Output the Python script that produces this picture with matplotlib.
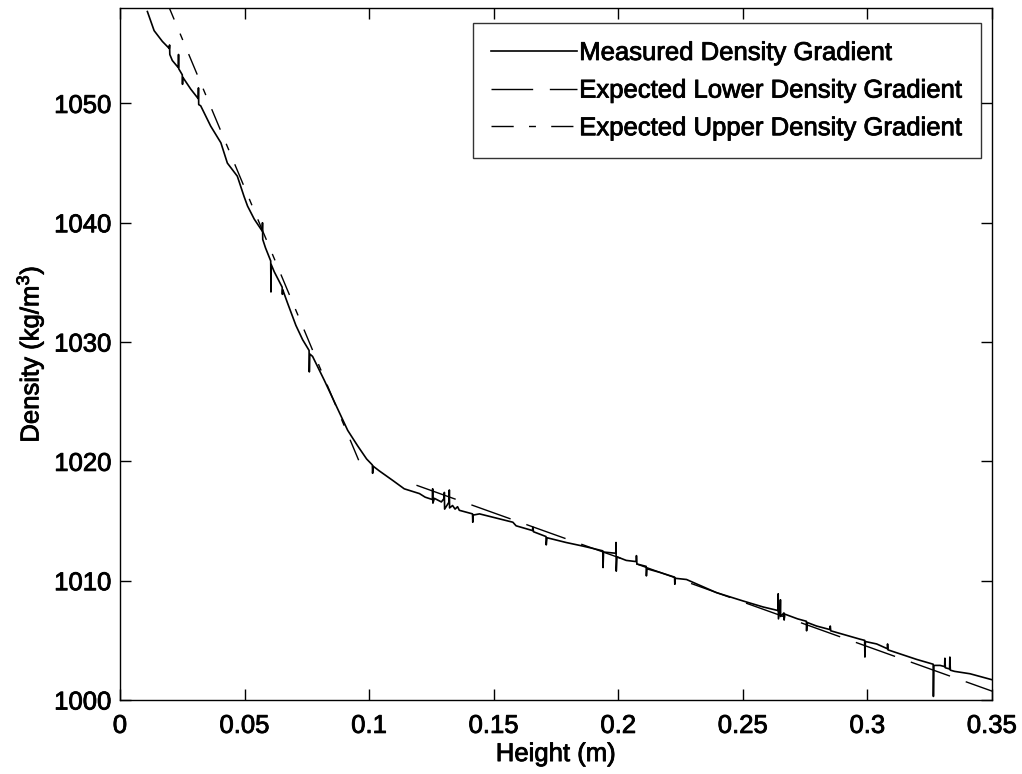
import numpy as np
import matplotlib
matplotlib.use('Agg')
import matplotlib.pyplot as plt
import matplotlib.patheffects as pe

plt.rcParams['font.family'] = ['Liberation Sans', 'DejaVu Sans']
plt.rcParams['mathtext.fontset'] = 'custom'
plt.rcParams['mathtext.rm'] = 'Liberation Sans'
plt.rcParams['mathtext.default'] = 'regular'

# measured profile (spikes included)
meas_x = [0.0110, 0.0137, 0.0170, 0.0198, 0.0199, 0.0200, 0.0210,
          0.0234, 0.0235, 0.0236, 0.0250, 0.0251, 0.0252, 0.0284,
          0.0314, 0.0315, 0.0316, 0.0324, 0.0364, 0.0405, 0.0431,
          0.0471, 0.0498, 0.0512, 0.0539, 0.0571, 0.0572, 0.0573,
          0.0584, 0.0605, 0.0606, 0.0607, 0.0619, 0.0651, 0.0652,
          0.0653, 0.0672, 0.0706, 0.0733, 0.0759, 0.0760, 0.0762,
          0.0773, 0.0820, 0.0867, 0.0914, 0.0954, 0.0990, 0.1013,
          0.1014, 0.1016, 0.1041, 0.1068, 0.1095, 0.1141, 0.1202,
          0.1225, 0.1254, 0.1255, 0.1256, 0.1262, 0.1290, 0.1301,
          0.1302, 0.1303, 0.1321, 0.1322, 0.1323, 0.1335, 0.1345,
          0.1355, 0.1362, 0.1415, 0.1416, 0.1418, 0.1443, 0.1500,
          0.1577, 0.1590, 0.1656, 0.1657, 0.1660, 0.1710, 0.1711,
          0.1714, 0.1791, 0.1858, 0.1899, 0.1938, 0.1939, 0.1941,
          0.1990, 0.1991, 0.1992, 0.1995, 0.2032, 0.2072, 0.2073,
          0.2075, 0.2112, 0.2113, 0.2115, 0.2166, 0.2226, 0.2227,
          0.2229, 0.2274, 0.2394, 0.2501, 0.2581, 0.2620, 0.2641,
          0.2642, 0.2643, 0.2650, 0.2651, 0.2652, 0.2665, 0.2666,
          0.2668, 0.2720, 0.2755, 0.2756, 0.2758, 0.2796, 0.2850,
          0.2851, 0.2853, 0.2970, 0.2989, 0.2990, 0.2992, 0.3037,
          0.3080, 0.3081, 0.3083, 0.3198, 0.3264, 0.3265, 0.3267,
          0.3292, 0.3310, 0.3311, 0.3313, 0.3330, 0.3331, 0.3333,
          0.3350, 0.3412, 0.3500]
meas_y = [1057.7, 1056.1, 1055.2, 1054.6, 1054.9, 1054.1, 1053.6,
          1053.0, 1054.1, 1052.9, 1052.4, 1051.6, 1052.2, 1051.2,
          1050.4, 1051.3, 1049.9, 1049.8, 1048.1, 1046.7, 1045.0,
          1043.9, 1042.2, 1041.4, 1040.3, 1039.3, 1040.0, 1038.6,
          1037.9, 1036.8, 1034.2, 1036.5, 1035.9, 1034.6, 1034.0,
          1034.4, 1033.3, 1031.4, 1030.2, 1029.3, 1027.5, 1029.0,
          1028.8, 1026.8, 1024.7, 1022.6, 1021.3, 1020.2, 1019.7,
          1019.0, 1019.6, 1019.2, 1018.8, 1018.4, 1017.7, 1017.3,
          1017.0, 1016.8, 1017.7, 1016.5, 1016.9, 1016.6, 1016.9,
          1017.4, 1016.0, 1016.6, 1017.6, 1016.1, 1016.3, 1016.0,
          1016.2, 1015.9, 1015.6, 1014.9, 1015.5, 1015.6, 1015.3,
          1014.9, 1014.6, 1014.2, 1014.5, 1014.1, 1013.7, 1013.0,
          1013.6, 1013.2, 1012.9, 1012.7, 1012.5, 1011.1, 1012.4,
          1012.3, 1013.2, 1010.8, 1012.0, 1011.7, 1011.6, 1012.1,
          1011.4, 1011.2, 1010.4, 1011.0, 1010.7, 1010.3, 1009.7,
          1010.2, 1010.1, 1009.0, 1008.3, 1007.8, 1007.6, 1007.5,
          1008.9, 1006.8, 1007.6, 1008.4, 1007.0, 1007.3, 1006.7,
          1007.2, 1006.8, 1006.6, 1005.8, 1006.5, 1006.2, 1005.9,
          1006.2, 1005.8, 1005.1, 1005.0, 1003.6, 1004.9, 1004.7,
          1004.3, 1004.7, 1004.2, 1003.4, 1003.0, 1000.3, 1002.9,
          1002.9, 1002.8, 1003.5, 1002.7, 1002.6, 1003.6, 1002.5,
          1002.4, 1002.2, 1001.7]

# expected gradients (straight lines)
lower_x = [0.119, 0.360]
lower_y = [1018.0, 1000.0]
upper_x = [0.015, 0.098]
upper_y = [1060.4, 1019.0]

xticks = [0, 0.05, 0.1, 0.15, 0.2, 0.25, 0.3, 0.35]
xlabels = ['0', '0.05', '0.1', '0.15', '0.2', '0.25', '0.3', '0.35']
yticks = [1000, 1010, 1020, 1030, 1040, 1050]

fs = 18.5
# scanned print looks a bit heavier than plain Arial
heavy = [pe.withStroke(linewidth=0.6, foreground='black')]

fig = plt.figure(figsize=(10.22, 7.74), dpi=100)
ax = fig.add_axes([0.1174, 0.0956, 0.8532, 0.8941])

ax.plot(meas_x, meas_y, color='black', lw=1.2, label='Measured Density Gradient')
ax.plot(lower_x, lower_y, color='black', lw=1.0, dashes=(30, 12),
        label='Expected Lower Density Gradient')
ax.plot(upper_x, upper_y, color='black', lw=1.0, dashes=(16, 11, 5, 11),
        label='Expected Upper Density Gradient')

ax.set_xlim(0, 0.35)
ax.set_ylim(1000, 1058)
ax.set_xticks(xticks)
ax.set_xticklabels(xlabels)
ax.set_yticks(yticks)
ax.tick_params(direction='in', length=8, width=1.0, top=True, right=True,
               labelsize=fs)
ax.tick_params(axis='x', pad=10)
ax.tick_params(axis='y', pad=6)
for s in ax.spines.values():
    s.set_linewidth(1.0)

ax.set_xlabel('Height (m)', fontsize=fs, labelpad=3)
ax.set_ylabel('Density (kg/m$^3$)', fontsize=fs, labelpad=6)

leg = ax.legend(loc='upper right', bbox_to_anchor=(0.9874, 0.9783),
                fontsize=fs, frameon=True, fancybox=False, edgecolor='black',
                handlelength=3.35, handletextpad=0.1, labelspacing=0.53,
                borderpad=0.7, borderaxespad=0)
leg.get_frame().set_linewidth(1.0)

for t in (ax.get_xticklabels() + ax.get_yticklabels() + leg.get_texts()
          + [ax.xaxis.label, ax.yaxis.label]):
    t.set_path_effects(heavy)

fig.savefig('out.png', dpi=100)
